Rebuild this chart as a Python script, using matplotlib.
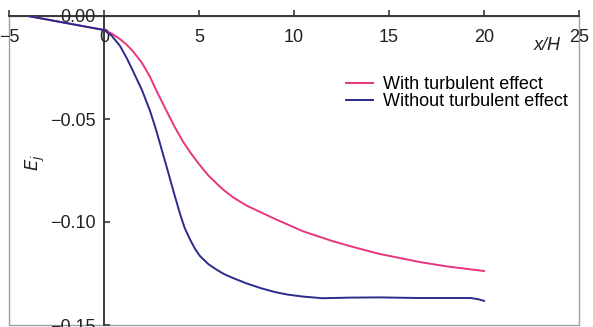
import matplotlib
matplotlib.use("Agg")
import matplotlib.pyplot as plt
from matplotlib.patches import Rectangle

plt.rcParams['font.family'] = ['Liberation Sans', 'DejaVu Sans']

# streamwise position x/H and energy E_j
x_turb = [-4.0, -2.0, 0.0, 0.4, 0.84, 1.2, 1.53, 2.0, 2.42, 2.8, 3.32, 3.7,
          4.16, 4.6, 5.05, 5.5, 5.95, 6.3, 6.79, 7.5, 8.21, 9.0, 10.47, 12.0,
          13.1, 14.5, 16.6, 18.0, 20.0]
E_turb = [0.0, -0.0034, -0.0068, -0.0085, -0.0112, -0.0140, -0.0172, -0.0228,
          -0.0295, -0.0370, -0.0466, -0.0535, -0.0610, -0.0670, -0.0725,
          -0.0775, -0.0815, -0.0845, -0.0880, -0.0920, -0.0951, -0.0985,
          -0.1045, -0.1092, -0.1121, -0.1155, -0.1194, -0.1215, -0.1238]

x_lam = [-4.0, -2.0, 0.0, 0.4, 0.84, 1.2, 1.53, 2.0, 2.42, 2.7, 2.95, 3.32,
         3.7, 4.0, 4.25, 4.53, 4.8, 5.05, 5.5, 5.95, 6.3, 6.79, 7.5, 8.21, 9.0,
         9.63, 10.47, 11.5, 13.0, 14.5, 16.6, 19.3, 19.7, 20.0]
E_lam = [0.0, -0.0034, -0.0068, -0.0095, -0.0145, -0.0205, -0.0268, -0.0360,
         -0.0460, -0.0540, -0.0620, -0.0740, -0.0865, -0.0960, -0.1030,
         -0.1085, -0.1132, -0.1165, -0.1205, -0.1233, -0.1252, -0.1272,
         -0.1298, -0.1320, -0.1340, -0.1352, -0.1362, -0.1370, -0.1367,
         -0.1366, -0.1369, -0.1369, -0.1375, -0.1383]

labels = ['With turbulent effect', 'Without turbulent effect']
colors = ['#e8357f', '#2b2b8c']

fig = plt.figure(figsize=(5.93, 3.27), dpi=100)
ax = fig.add_axes([9 / 593, 2 / 327, 570 / 593, 309 / 327])

ax.plot(x_turb, E_turb, color=colors[0], lw=1.4, label=labels[0])
ax.plot(x_lam, E_lam, color=colors[1], lw=1.4, label=labels[1])

ax.set_xlim(-5, 25)
ax.set_ylim(-0.15, 0.0)

# axes cross at the origin
for s in ['top', 'right']:
    ax.spines[s].set_visible(False)
ax.spines['left'].set_position(('data', 0))
ax.spines['bottom'].set_position(('data', 0))
for s in ['left', 'bottom']:
    ax.spines[s].set_color('#3a3a3a')
    ax.spines[s].set_linewidth(1.4)
    ax.spines[s].set_zorder(1)

ax.set_xticks([-5, 0, 5, 10, 15, 20, 25])
ax.set_xticklabels(['\u22125', '0', '5', '10', '15', '20', '25'])
ax.set_yticks([0.0, -0.05, -0.10, -0.15])
ax.set_yticklabels(['0.00', '\u22120.05', '\u22120.10', '\u22120.15'])
ax.tick_params(axis='x', direction='in', length=4, width=1.2, color='#3a3a3a',
               pad=9, labelsize=13, labelcolor='#222222')
ax.tick_params(axis='y', direction='in', length=4, width=1.2, color='#3a3a3a',
               pad=6, labelsize=13, labelcolor='#222222')

# gray frame around the plot region
ax.add_patch(Rectangle((0, 0), 1, 1, transform=ax.transAxes, fill=False,
                       ec='#a0a0a0', lw=1.0, clip_on=False, zorder=0))

fig.text(547 / 593, 1 - 45 / 327, 'x/H', fontsize=13, style='italic',
         ha='center', va='center', color='#222222')
fig.text(35 / 593, 1 - 163 / 327, r'$E_j$', fontsize=13, rotation=90,
         ha='center', va='center', color='#222222')

ax.legend(loc='upper left', bbox_to_anchor=(346 / 593, 1 - 76 / 327),
          bbox_transform=fig.transFigure, frameon=False, fontsize=13,
          handlelength=1.5, handletextpad=0.55, labelspacing=0.0,
          borderpad=0, borderaxespad=0)

fig.savefig('out.png', dpi=100)
